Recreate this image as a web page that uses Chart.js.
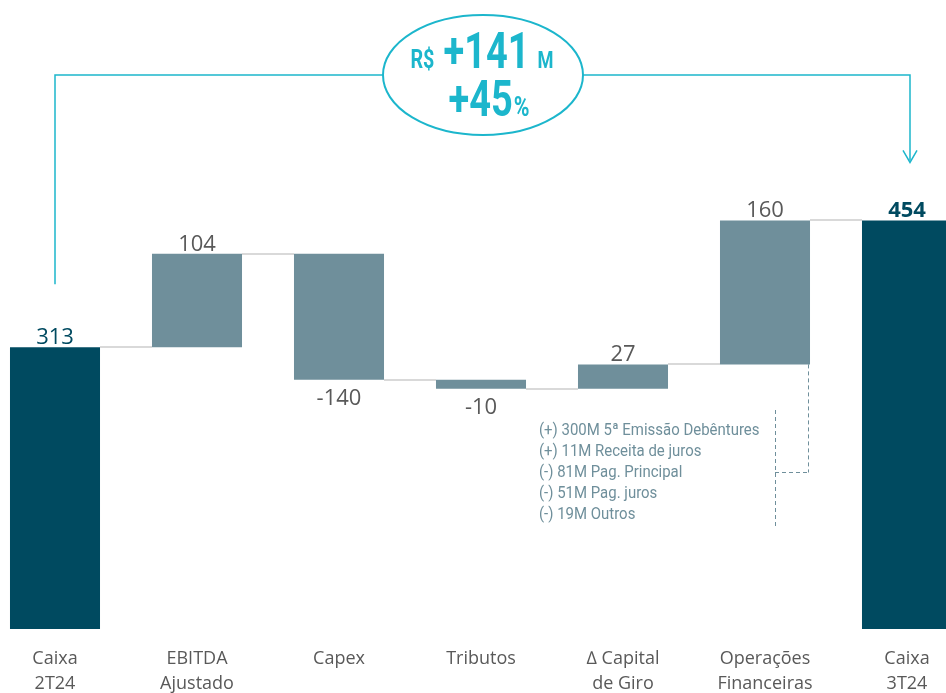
<!DOCTYPE html>
<html>
<head>
<meta charset="utf-8">
<script src="https://cdn.jsdelivr.net/npm/chart.js@4.4.1/dist/chart.umd.min.js"></script>
<style>
  html, body { margin: 0; padding: 0; background: #fff; overflow: hidden; }
  #wrap { position: relative; width: 994px; height: 693px; margin-left: -16px; }
</style>
</head>
<body>
<div id="wrap"><canvas id="cashChart"></canvas></div>
<script>
// categories and values (R$ milhões)
const categories = [['Caixa', '2T24'], ['EBITDA', 'Ajustado'], 'Capex', 'Tributos', ['\u2206 Capital', 'de Giro'], ['Operações', 'Financeiras'], ['Caixa', '3T24']];
const steps = [313, 104, -140, -10, 27, 160, 454];
const isTotal = [true, false, false, false, false, false, true];
const notes = ['(+) 300M 5ª Emissão Debêntures', '(+) 11M Receita de juros', '(-) 81M Pag. Principal', '(-) 51M Pag. juros', '(-) 19M Outros'];
const headline = { value: '+141', pct: '+45' };

const darkTeal = '#004a60';
const greyTeal = '#6f8f9b';
const cyan = '#1cb6cc';
const txtGrey = '#595959';
const condensed = "'Roboto', sans-serif";

// build floating ranges for the waterfall
const ranges = [];
const levels = [];
let run = 0;
steps.forEach((v, i) => {
  if (isTotal[i]) {
    ranges.push([0, v]);
    run = v;
  } else {
    ranges.push([run, run + v]);
    run += v;
  }
  levels.push(run);
});

const extras = {
  id: 'extras',
  beforeDatasetsDraw(chart) {
    const ctx = chart.ctx;
    const y = chart.scales.y;
    const bars = chart.getDatasetMeta(0).data;
    ctx.save();
    ctx.strokeStyle = '#d9d9d9';
    ctx.lineWidth = 2;
    for (let i = 0; i < bars.length - 1; i++) {
      const yy = Math.round(y.getPixelForValue(levels[i]));
      ctx.beginPath();
      ctx.moveTo(bars[i].x + bars[i].width / 2, yy);
      ctx.lineTo(bars[i + 1].x - bars[i + 1].width / 2, yy);
      ctx.stroke();
    }
    ctx.restore();
  },
  afterDatasetsDraw(chart) {
    const ctx = chart.ctx;
    const y = chart.scales.y;
    const bars = chart.getDatasetMeta(0).data;
    ctx.save();

    // value labels
    ctx.textAlign = 'center';
    bars.forEach((b, i) => {
      const v = steps[i];
      const bold = i === steps.length - 1;
      ctx.font = (bold ? '700 ' : '400 ') + "22px 'Open Sans', sans-serif";
      ctx.fillStyle = isTotal[i] ? darkTeal : txtGrey;
      if (v >= 0) {
        ctx.textBaseline = 'alphabetic';
        ctx.fillText(String(v), b.x, y.getPixelForValue(Math.max(...ranges[i])) - 3);
      } else {
        ctx.textBaseline = 'top';
        ctx.fillText(String(v), b.x, y.getPixelForValue(Math.min(...ranges[i])) + 8);
      }
    });

    // bracket with arrow from Caixa 2T24 to Caixa 3T24
    const x0 = bars[0].x;
    const x6 = bars[6].x + 3;
    const topY = 75;
    const cx = 499, rx = 100, ry = 60;
    ctx.strokeStyle = cyan;
    ctx.fillStyle = cyan;
    ctx.lineWidth = 1.5;
    ctx.beginPath();
    ctx.moveTo(x0, y.getPixelForValue(steps[0]) - 63);
    ctx.lineTo(x0, topY);
    ctx.lineTo(cx - rx, topY);
    ctx.moveTo(cx + rx, topY);
    ctx.lineTo(x6, topY);
    const tip = y.getPixelForValue(steps[6]) - 58;
    ctx.lineTo(x6, tip - 2);
    ctx.stroke();
    ctx.beginPath();
    ctx.moveTo(x6 - 7, tip - 12);
    ctx.lineTo(x6, tip);
    ctx.lineTo(x6 + 7, tip - 12);
    ctx.stroke();

    ctx.lineWidth = 2;
    ctx.beginPath();
    ctx.ellipse(cx, topY, rx, ry, 0, 0, Math.PI * 2);
    ctx.stroke();

    // headline text inside the ellipse (horizontally condensed)
    ctx.textAlign = 'left';
    ctx.textBaseline = 'alphabetic';
    const sx = 0.76;
    const line1 = [['R$', '700 26px ' + condensed, 9], [headline.value, '700 50px ' + condensed, 8], ['M', '700 24px ' + condensed, 0]];
    const line2 = [[headline.pct, '700 50px ' + condensed, 1], ['%', '700 28px ' + condensed, 0]];
    const drawLine = (parts, cxl, base) => {
      let w = 0;
      parts.forEach(p => { ctx.font = p[1]; w += ctx.measureText(p[0]).width * sx + p[2]; });
      let x = cxl - w / 2;
      parts.forEach(p => {
        ctx.font = p[1];
        ctx.save();
        ctx.translate(x, base);
        ctx.scale(sx, 1);
        ctx.fillText(p[0], 0, 0);
        ctx.restore();
        x += ctx.measureText(p[0]).width * sx + p[2];
      });
    };
    drawLine(line1, cx - 1, 68);
    drawLine(line2, cx + 6, 116);

    // notes for Operações Financeiras
    const b5 = bars[5];
    const dashX = b5.x + 10;
    const rightX = b5.x + b5.width / 2 - 2;
    const bottom5 = y.getPixelForValue(Math.min(...ranges[5]));
    ctx.strokeStyle = greyTeal;
    ctx.lineWidth = 1;
    ctx.setLineDash([4, 3]);
    ctx.beginPath();
    ctx.moveTo(dashX + 0.5, 410);
    ctx.lineTo(dashX + 0.5, 528);
    ctx.moveTo(dashX, 472.5);
    ctx.lineTo(rightX + 0.5, 472.5);
    ctx.moveTo(rightX + 0.5, bottom5);
    ctx.lineTo(rightX + 0.5, 472.5);
    ctx.stroke();
    ctx.setLineDash([]);

    ctx.fillStyle = greyTeal;
    ctx.font = '400 17px ' + condensed;
    ctx.textBaseline = 'middle';
    notes.forEach((t, i) => {
      ctx.save();
      ctx.translate(dashX - 236, 431 + i * 21);
      ctx.scale(0.88, 1);
      ctx.fillText(t, 0, 0);
      ctx.restore();
    });
    ctx.restore();
  }
};

new Chart(document.getElementById('cashChart'), {
  type: 'bar',
  data: {
    labels: categories,
    datasets: [{
      data: ranges,
      backgroundColor: isTotal.map(t => t ? darkTeal : greyTeal),
      borderSkipped: false,
      barPercentage: 0.634,
      categoryPercentage: 1
    }]
  },
  options: {
    responsive: true,
    maintainAspectRatio: false,
    animation: false,
    layout: { padding: { top: 134, left: 0, right: 0, bottom: 0 } },
    plugins: { legend: { display: false }, tooltip: { enabled: false } },
    scales: {
      x: {
        grid: { display: false },
        border: { display: false },
        afterFit(scale) { scale.height = 64; },
        ticks: {
          color: txtGrey,
          padding: 9,
          maxRotation: 0,
          autoSkip: false,
          font: { family: "'Open Sans', sans-serif", size: 18, lineHeight: 1.39 }
        }
      },
      y: { display: false, min: 0, max: 550 }
    }
  },
  plugins: [extras]
});
</script>
</body>
</html>
